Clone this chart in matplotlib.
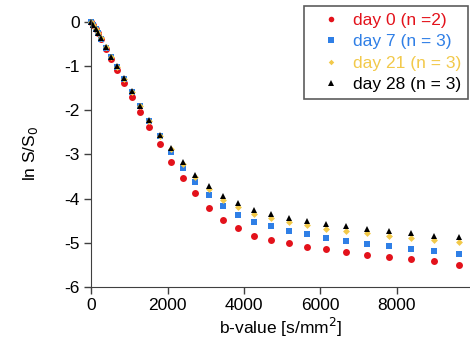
import matplotlib
matplotlib.use("Agg")
import matplotlib.pyplot as plt

plt.rcParams['font.family'] = ['Liberation Sans', 'DejaVu Sans']

# b-values (s/mm^2)
b_values = [0, 60, 120, 180, 260, 380, 520, 670, 850, 1060, 1280, 1520, 1790, 2080,
            2400, 2730, 3080, 3450, 3850, 4270, 4710, 5170, 5650, 6160, 6680, 7220,
            7790, 8370, 8980, 9620]

# ln S/S0 per group
day0 = [0, -0.07, -0.16, -0.25, -0.39, -0.60, -0.83, -1.09, -1.38, -1.69, -2.03, -2.38,
        -2.77, -3.16, -3.53, -3.87, -4.21, -4.48, -4.67, -4.84, -4.93, -5.01, -5.09,
        -5.15, -5.20, -5.28, -5.32, -5.36, -5.42, -5.50]
day7 = [0, -0.07, -0.15, -0.24, -0.38, -0.58, -0.79, -1.02, -1.30, -1.59, -1.91, -2.25,
        -2.59, -2.95, -3.31, -3.63, -3.92, -4.17, -4.37, -4.52, -4.63, -4.73, -4.81,
        -4.89, -4.96, -5.02, -5.08, -5.15, -5.18, -5.25]
day21 = [0, -0.07, -0.15, -0.24, -0.37, -0.57, -0.79, -1.01, -1.28, -1.58, -1.90, -2.23,
         -2.57, -2.88, -3.22, -3.51, -3.78, -4.02, -4.20, -4.35, -4.45, -4.52, -4.59,
         -4.68, -4.73, -4.78, -4.84, -4.89, -4.93, -4.99]
day28 = [0, -0.07, -0.15, -0.24, -0.37, -0.57, -0.78, -1.00, -1.27, -1.57, -1.89, -2.21,
         -2.55, -2.85, -3.17, -3.46, -3.72, -3.93, -4.10, -4.25, -4.35, -4.44, -4.50,
         -4.57, -4.61, -4.68, -4.73, -4.78, -4.84, -4.87]

labels = ["day 0 (n =2)", "day 7 (n = 3)", "day 21 (n = 3)", "day 28 (n = 3)"]
colors = ["#e3121b", "#2f7fe6", "#f2c94a", "#000000"]
markers = ["o", "s", "D", "^"]
sizes = [5, 5, 3.5, 5]

fig = plt.figure(figsize=(4.70, 3.49), dpi=100)
ax = fig.add_axes([0.194, 0.178, 0.806, 0.765])

for ys, lab, c, m, s in zip([day0, day7, day21, day28], labels, colors, markers, sizes):
    ax.plot(b_values, ys, linestyle="none", marker=m, color=c, markersize=s,
            markeredgewidth=0, label=lab, clip_on=False)

ax.set_xlim(0, 9920)
ax.set_ylim(-6, 0.05)
ax.set_xticks([0, 2000, 4000, 6000, 8000])
ax.set_yticks([0, -1, -2, -3, -4, -5, -6])
ax.set_yticklabels(["0", "-1", "-2", "-3", "-4", "-5", "-6"])
for side in ["top", "right"]:
    ax.spines[side].set_visible(False)
for side in ["left", "bottom"]:
    ax.spines[side].set_color("#404040")
ax.tick_params(direction="out", length=5, width=1, color="#404040", labelsize=12.5, pad=3)

ax.set_xlabel("b-value [s/mm$^2$]", fontsize=12.5, labelpad=2)
ax.set_ylabel("ln S/S$_0$", fontsize=12.5, labelpad=18)

leg = ax.legend(loc="upper right", bbox_to_anchor=(0.996, 0.983), bbox_transform=fig.transFigure,
                borderaxespad=0, fancybox=False, edgecolor="#333333", fontsize=12.5,
                markerscale=0.8, handletextpad=0.1, labelspacing=0.36, borderpad=0.4,
                handlelength=2.3)
leg.get_frame().set_linewidth(1.2)
for t, c in zip(leg.get_texts(), colors):
    t.set_color(c)

fig.savefig("out.png", dpi=100)
